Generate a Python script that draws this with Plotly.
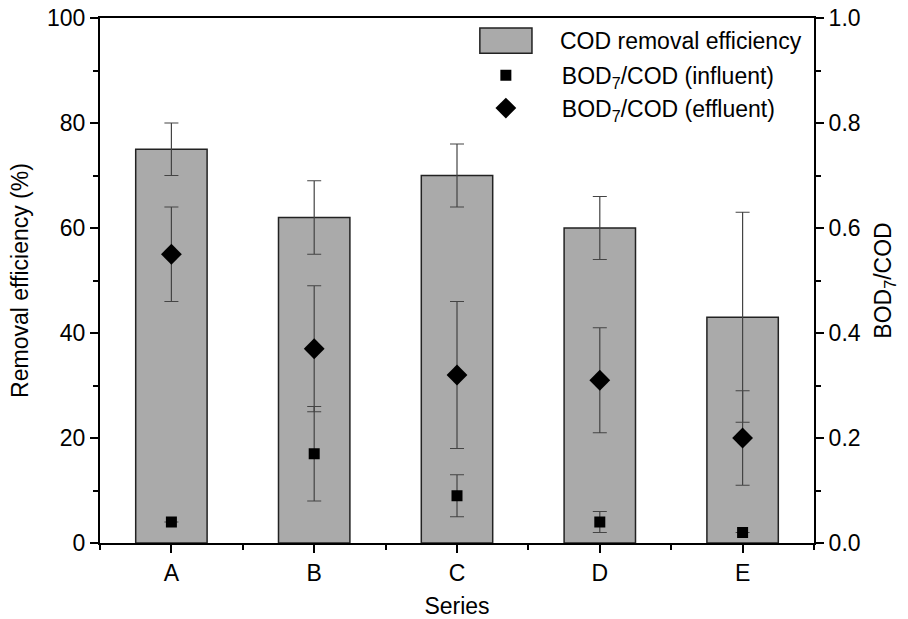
import plotly.graph_objects as go

categories = ["A", "B", "C", "D", "E"]
cod_removal = [75, 62, 70, 60, 43]
cod_removal_err = [5, 7, 6, 6, 20]
bod_cod_influent = [0.04, 0.17, 0.09, 0.04, 0.02]
bod_cod_influent_err = [0, 0.09, 0.04, 0.02, 0]
bod_cod_effluent = [0.55, 0.37, 0.32, 0.31, 0.20]
bod_cod_effluent_err = [0.09, 0.12, 0.14, 0.10, 0.09]

xpos = list(range(len(categories)))
FONT = "Liberation Sans, Arial, sans-serif"
FS = 23
errc = "#444444"
bar_fill = "#aaaaaa"
bar_edge = "#222222"

fig = go.Figure()
fig.add_trace(go.Bar(
    x=xpos, y=cod_removal, name="COD removal efficiency", width=0.5, showlegend=False,
    marker=dict(color=bar_fill, line=dict(color=bar_edge, width=1.5)),
    error_y=dict(type="data", array=cod_removal_err, color=errc, thickness=1.2, width=7),
    yaxis="y",
))
fig.add_trace(go.Scatter(
    x=xpos, y=bod_cod_influent, name="BOD<sub>7</sub>/COD (influent)", mode="markers",
    marker=dict(symbol="square", size=11, color="black"),
    error_y=dict(type="data", array=bod_cod_influent_err, color=errc, thickness=1.2, width=7),
    yaxis="y2",
))
fig.add_trace(go.Scatter(
    x=xpos, y=bod_cod_effluent, name="BOD<sub>7</sub>/COD (effluent)", mode="markers",
    marker=dict(symbol="diamond", size=16, color="black"),
    error_y=dict(type="data", array=bod_cod_effluent_err, color=errc, thickness=1.2, width=7),
    yaxis="y2",
))

# legend entry for the bar series (wide swatch as in the original)
fig.add_shape(type="rect", xref="paper", yref="paper", x0=0.532, x1=0.605, y0=0.933, y1=0.981,
              fillcolor=bar_fill, line=dict(color=bar_edge, width=1.5), layer="above")
fig.add_annotation(text="COD removal efficiency", xref="paper", yref="paper", x=0.642, y=0.957,
                   xanchor="left", yanchor="middle", showarrow=False,
                   font=dict(family=FONT, size=FS, color="black"))

axis_common = dict(showline=True, linecolor="black", linewidth=2, ticks="outside",
                   ticklen=8, tickwidth=2, tickcolor="black", showgrid=False, zeroline=False,
                   automargin=False,
                   tickfont=dict(family=FONT, size=FS, color="black"))
minor_common = dict(ticks="outside", ticklen=5, tickwidth=2, tickcolor="black")

fig.update_layout(
    width=908, height=619,
    margin=dict(l=100, r=94, t=18, b=76),
    plot_bgcolor="white", paper_bgcolor="white",
    font=dict(family=FONT, size=FS, color="black"),
    showlegend=True,
    legend=dict(x=0.490, y=0.932, xanchor="left", yanchor="top", bgcolor="rgba(0,0,0,0)",
                font=dict(family=FONT, size=FS, color="black"), itemwidth=102,
                tracegroupgap=0),
    xaxis=dict(**axis_common, range=[-0.5, 4.5], tickvals=xpos, ticktext=categories,
               mirror=True,
               minor=dict(**minor_common, tick0=0.5, dtick=1),
               title=dict(text="Series", font=dict(family=FONT, size=FS))),
    yaxis=dict(**axis_common, range=[0, 100], dtick=20, side="left",
               minor=dict(**minor_common, dtick=10),
               title=dict(text="Removal efficiency (%)", font=dict(family=FONT, size=FS), standoff=12)),
    yaxis2=dict(**axis_common, range=[0, 1], dtick=0.2, tickformat=".1f", overlaying="y", side="right",
                minor=dict(**minor_common, dtick=0.1),
                title=dict(text="BOD<sub>7</sub>/COD", font=dict(family=FONT, size=FS))),
)

fig.write_html("out.html")
